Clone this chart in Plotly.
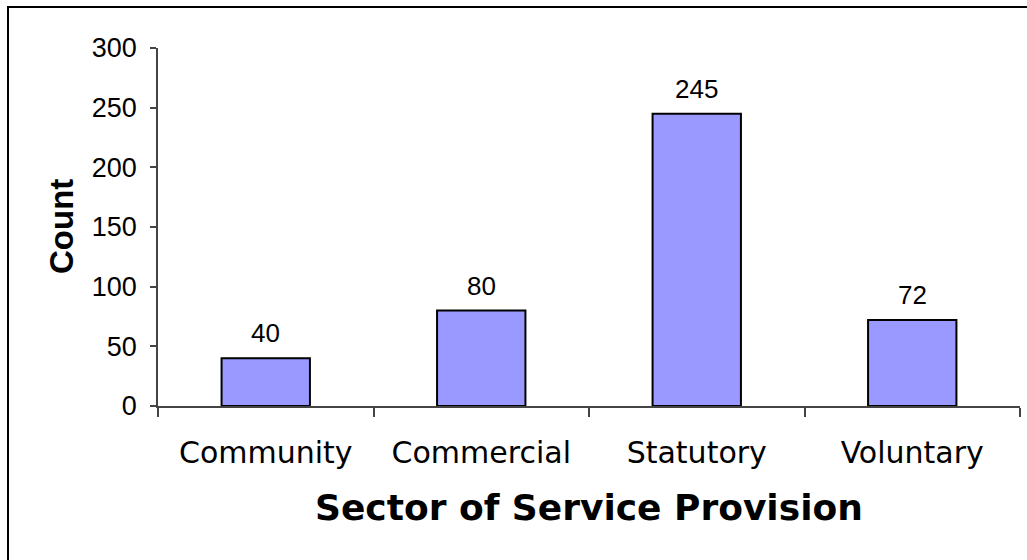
import plotly.graph_objects as go

# Number of services by provider sector
sectors = ["Community", "Commercial", "Statutory", "Voluntary"]
counts = [40, 80, 245, 72]

y_ticks = [0, 50, 100, 150, 200, 250, 300]

W, H = 1027, 560
ML, MR, MT, MB = 158, 7, 48, 154
PW = W - ML - MR
PH = H - MT - MB

fig = go.Figure(
    go.Bar(
        x=sectors,
        y=counts,
        marker=dict(color="#9999FF", line=dict(color="#000000", width=2)),
        hoverinfo="x+y",
    )
)

# value labels above bars
for s, c in zip(sectors, counts):
    fig.add_annotation(
        x=s, y=c, text=str(c), showarrow=False,
        yanchor="bottom", yshift=8,
        font=dict(family="Liberation Sans, Arial", size=26, color="#000"),
    )

# axis titles
fig.add_annotation(
    xref="paper", yref="paper", x=0.5, y=-(508 - (H - MB)) / PH,
    text="<b>Sector of Service Provision</b>", showarrow=False,
    xanchor="center", yanchor="middle",
    font=dict(family="DejaVu Sans, Verdana", size=36, color="#000"),
)
fig.add_annotation(
    xref="paper", yref="paper", x=(61 - ML) / PW, y=0.5,
    text="<b>Count</b>", showarrow=False, textangle=-90,
    xanchor="center", yanchor="middle",
    font=dict(family="Liberation Sans, Arial", size=33, color="#000"),
)

# outer frame (only top and left edges fall inside the page)
fig.add_shape(
    type="rect", xref="paper", yref="paper",
    x0=(8 - ML) / PW, x1=(W + 5 - ML) / PW,
    y0=-(H + 5 - (H - MB)) / PH, y1=1 + (MT - 7) / PH,
    line=dict(color="#000000", width=2), fillcolor="rgba(0,0,0,0)", layer="above",
)

fig.update_layout(
    width=W, height=H,
    margin=dict(l=ML, r=MR, t=MT, b=MB, pad=0),
    paper_bgcolor="white", plot_bgcolor="white",
    bargap=0.59,
    showlegend=False,
    xaxis=dict(
        showline=True, linecolor="#444444", linewidth=1.5,
        ticks="outside", tickson="boundaries", ticklen=9, tickwidth=1.5, tickcolor="#444444",
        ticklabelstandoff=19,
        tickfont=dict(family="DejaVu Sans, Verdana", size=30, color="#000"),
        showgrid=False, zeroline=False,
    ),
    yaxis=dict(
        range=[0, 300], tickvals=y_ticks,
        showline=True, linecolor="#444444", linewidth=1.5,
        ticks="outside", ticklen=6, tickwidth=1.5, tickcolor="#444444",
        ticklabelstandoff=8,
        tickfont=dict(family="Liberation Sans, Arial", size=27, color="#000"),
        showgrid=False, zeroline=False,
    ),
)

fig.write_html("out.html")
